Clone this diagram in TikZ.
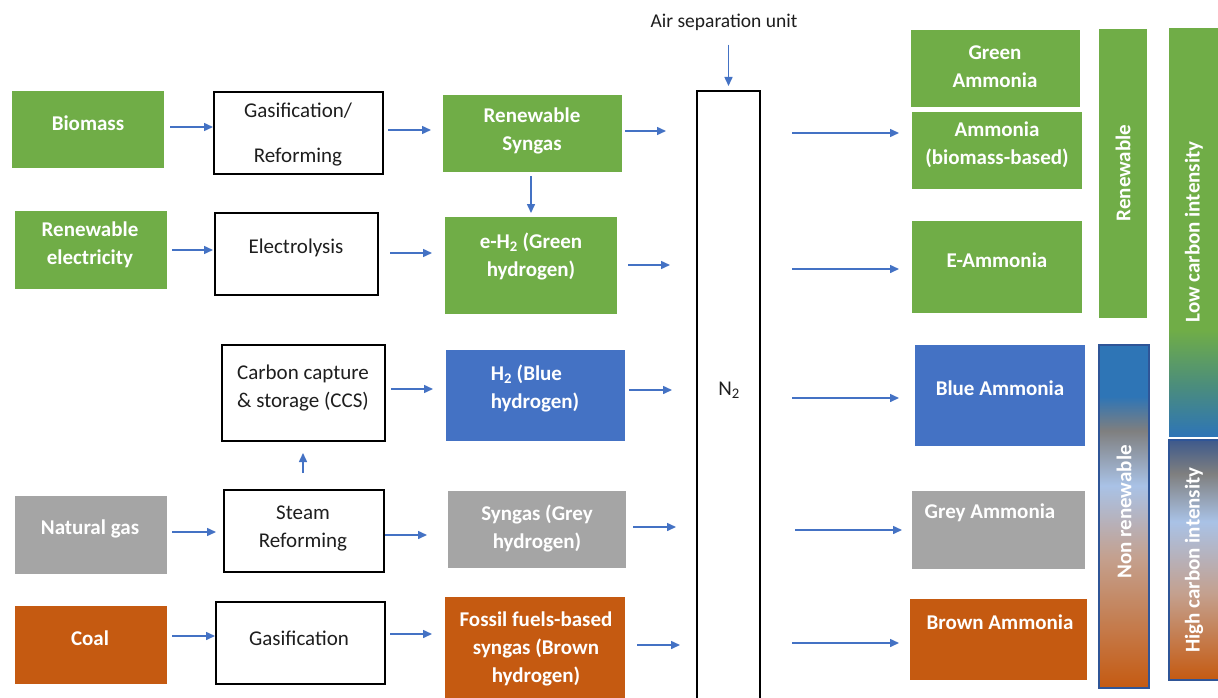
\documentclass[tikz,border=0pt]{standalone}
\usepackage{fontspec}
\setmainfont{Carlito}
\usetikzlibrary{arrows.meta,calc}
\definecolor{cgreen}{HTML}{70AD47}
\definecolor{cblue}{HTML}{4472C4}
\definecolor{cgrey}{HTML}{A5A5A5}
\definecolor{corange}{HTML}{C55A11}
\definecolor{carrow}{HTML}{4472C4}
\definecolor{cbar}{HTML}{2E75B6}
\definecolor{cmidgrey}{HTML}{7F7F7F}
\definecolor{clblue}{HTML}{A9C2E6}
\definecolor{ctan}{HTML}{C4A08E}
\definecolor{cteal}{HTML}{4A8C7E}
\definecolor{cslate}{HTML}{3E5A8C}
\definecolor{cframe}{HTML}{2F5597}
\definecolor{ctext}{HTML}{1E1E1E}
\pgfdeclareverticalshading{shnonren}{100bp}{color(0bp)=(corange); color(25bp)=(corange); color(44bp)=(ctan); color(54.5bp)=(clblue); color(62.5bp)=(cmidgrey); color(67.5bp)=(cbar); color(75bp)=(cbar); color(100bp)=(cbar)}
\pgfdeclareverticalshading{shlow}{100bp}{color(0bp)=(cbar); color(25bp)=(cbar); color(31bp)=(cteal); color(38bp)=(cgreen); color(75bp)=(cgreen); color(100bp)=(cgreen)}
\pgfdeclareverticalshading{shhigh}{100bp}{color(0bp)=(corange); color(25bp)=(corange); color(43bp)=(ctan); color(58bp)=(clblue); color(68bp)=(cmidgrey); color(75bp)=(cslate); color(100bp)=(cslate)}
\tikzset{
  box/.style={anchor=north west, inner sep=0pt, outer sep=0pt},
  gbox/.style={box, fill=cgreen},
  bbox/.style={box, fill=cblue},
  ybox/.style={box, fill=cgrey},
  obox/.style={box, fill=corange},
  wbox/.style={box, draw=black, line width=1.5pt, fill=white},
  wt/.style={text=white, font=\bfseries\fontsize{21}{28}\selectfont, align=center, inner sep=0pt},
  bt/.style={text=ctext, font=\fontsize{21}{28}\selectfont, align=center, inner sep=0pt},
  arr/.style={draw=carrow, line width=1.5pt, -{Triangle[length=9pt,width=8pt]}},
}
\begin{document}
\begin{tikzpicture}[x=1pt,y=-1pt]
\clip (0,0) rectangle (1218,698);
\fill[white] (0,0) rectangle (1218,698);
% left column
\node[gbox, minimum width=152, minimum height=77] (bio) at (12,91) {};
\node[wt] (bio-t) at (88,123) {Biomass};
\node[gbox, minimum width=152, minimum height=78] (rel) at (15,211) {};
\node[wt] (rel-t) at (90,245) {Renewable\\electricity};
\node[ybox, minimum width=152, minimum height=78] (ng) at (15,496) {};
\node[wt] (ng-t) at (90,529) {Natural gas};
\node[obox, minimum width=152, minimum height=78] (coal) at (15,606) {};
\node[wt] (coal-t) at (90,638) {Coal};
% process boxes
\node[wbox, minimum width=169, minimum height=82] (gas1) at (214,92) {};
\node[bt] (gas1-t) at (298,135) {Gasification/\\[17pt]Reforming};
\node[wbox, minimum width=163, minimum height=82] (elec) at (215,213) {};
\node[bt] (elec-t) at (296,248) {Electrolysis};
\node[wbox, minimum width=163, minimum height=96] (ccs) at (222,345) {};
\node[bt] (ccs-t) at (303,388) {Carbon capture\\\& storage (CCS)};
\node[wbox, minimum width=160, minimum height=82] (steam) at (224,490) {};
\node[bt] (steam-t) at (303,528) {Steam\\Reforming};
\node[wbox, minimum width=169, minimum height=82] (gas2) at (216,602) {};
\node[bt] (gas2-t) at (299,638) {Gasification};
% hydrogen column
\node[gbox, minimum width=179, minimum height=77] (rsyn) at (443,95) {};
\node[wt] (rsyn-t) at (532,131) {Renewable\\Syngas};
\node[gbox, minimum width=172, minimum height=97] (eh2) at (445,217) {};
\node[wt] (eh2-t) at (531,256) {e-H\textsubscript{2} (Green\\hydrogen)};
\node[bbox, minimum width=179, minimum height=91] (bh2) at (446,350) {};
\node[wt, align=left] (bh2-t) at (535,388) {H\textsubscript{2} (Blue\\hydrogen)};
\node[ybox, minimum width=178, minimum height=77] (gsyn) at (448,491) {};
\node[wt] (gsyn-t) at (537,528) {Syngas (Grey\\hydrogen)};
\node[obox, minimum width=180, minimum height=110] (fsyn) at (445,597) {};
\node[wt] (fsyn-t) at (536,649) {Fossil fuels-based\\syngas (Brown\\hydrogen)};
% N2
\node[wbox, minimum width=63, minimum height=630] (n2) at (697,91) {};
\node[bt] (n2-t) at (729,390) {N\textsubscript{2}};
\node[bt, font=\fontsize{19.5}{24}\selectfont] (asu) at (724,22) {Air separation unit};
% ammonia column
\node[gbox, minimum width=169, minimum height=77] (ga) at (911,30) {};
\node[wt] (ga-t) at (995,67) {Green\\Ammonia};
\node[gbox, minimum width=170, minimum height=77] (ab) at (912,112) {};
\node[wt] (ab-t) at (997,145) {Ammonia\\(biomass-based)};
\node[gbox, minimum width=170, minimum height=92] (ea) at (912,221) {};
\node[wt] (ea-t) at (997,260) {E-Ammonia};
\node[bbox, minimum width=170, minimum height=101] (ba) at (915,345) {};
\node[wt] (ba-t) at (1000,388) {Blue Ammonia};
\node[ybox, minimum width=173, minimum height=78] (gra) at (912,491) {};
\node[wt] (gra-t) at (990,513) {Grey Ammonia};
\node[obox, minimum width=177, minimum height=81] (bra) at (910,599) {};
\node[wt] (bra-t) at (1000,622) {Brown Ammonia};
% category bars
\node[gbox, minimum width=48, minimum height=289] (ren) at (1099,29) {};
\node[wt, rotate=90] (ren-t) at (1123,173) {Renewable};
\node[box, shade, shading=shnonren, draw=cframe, line width=1.2pt, minimum width=50, minimum height=343] (nonren) at (1099,345) {};
\node[wt, rotate=90] (nonren-t) at (1124,512) {Non renewable};
\node[box, shade, shading=shlow, minimum width=52, minimum height=407] (low) at (1169,29) {};
\node[wt, rotate=90] (low-t) at (1194,232) {Low carbon intensity};
\node[box, shade, shading=shhigh, draw=cframe, line width=1.2pt, minimum width=52, minimum height=240] (high) at (1169,440) {};
\node[wt, rotate=90] (high-t) at (1194,560) {High carbon intensity};
% arrows
\draw[arr, shorten <=6pt, shorten >=1pt] ([yshift=2.5pt]bio.east) -- ([yshift=2.5pt]bio.east -| gas1.west);
\draw[arr, shorten <=5pt, shorten >=12pt] ([yshift=3pt]gas1.east) -- ([yshift=3pt]gas1.east -| rsyn.west);
\draw[arr, shorten <=3pt, shorten >=31pt] ([yshift=2.5pt]rsyn.east) -- ([yshift=2.5pt]rsyn.east -| n2.west);
\draw[arr, shorten <=32pt, shorten >=13pt] ([yshift=17.5pt]ab.west -| n2.east) -- ([yshift=17.5pt]ab.west);
\draw[arr, shorten <=4pt, shorten >=4pt] ([xshift=-1.5pt]rsyn.south) -- ([xshift=-1.5pt]rsyn.south |- eh2.north);
\draw[arr, shorten <=5pt, shorten >=2pt] (rel.east) -- (rel.east -| elec.west);
\draw[arr, shorten <=12pt, shorten >=13pt] ([yshift=1pt]elec.east) -- ([yshift=1pt]elec.east -| eh2.west);
\draw[arr, shorten <=11pt, shorten >=27pt] ([yshift=0.5pt]eh2.east) -- ([yshift=0.5pt]eh2.east -| n2.west);
\draw[arr, shorten <=32pt, shorten >=13pt] ([yshift=-2pt]ea.west -| n2.east) -- ([yshift=-2pt]ea.west);
\draw[arr, shorten <=6pt, shorten >=13pt] ([yshift=4pt]ccs.east) -- ([yshift=4pt]ccs.east -| bh2.west);
\draw[arr, shorten <=4pt, shorten >=25pt] ([yshift=5.5pt]bh2.east) -- ([yshift=5.5pt]bh2.east -| n2.west);
\draw[arr, shorten <=32pt, shorten >=16pt] ([yshift=-2.5pt]ba.west -| n2.east) -- ([yshift=-2.5pt]ba.west);
\draw[arr, shorten <=17pt, shorten >=12pt] ([xshift=-1pt]steam.north) -- ([xshift=-1pt]steam.north |- ccs.south);
\draw[arr, shorten <=5pt, shorten >=8pt] ([yshift=3pt]ng.east) -- ([yshift=3pt]ng.east -| steam.west);
\draw[arr, shorten <=1pt, shorten >=21pt] ([yshift=-4pt]steam.east) -- ([yshift=-4pt]steam.east -| gsyn.west);
\draw[arr, shorten <=7pt, shorten >=21pt] ([yshift=2.5pt]gsyn.east) -- ([yshift=2.5pt]gsyn.east -| n2.west);
\draw[arr, shorten <=35pt, shorten >=10pt] (gra.west -| n2.east) -- (gra.west);
\draw[arr, shorten <=5pt, shorten >=1pt] ([yshift=9pt]coal.east) -- ([yshift=9pt]coal.east -| gas2.west);
\draw[arr, shorten <=5pt, shorten >=13pt] ([yshift=9pt]gas2.east) -- ([yshift=9pt]gas2.east -| fsyn.west);
\draw[arr, shorten <=12pt, shorten >=17pt] ([yshift=7pt]fsyn.east) -- ([yshift=7pt]fsyn.east -| n2.west);
\draw[arr, shorten <=32pt, shorten >=11pt] ([yshift=-3.5pt]bra.west -| n2.east) -- ([yshift=-3.5pt]bra.west);
\draw[arr, shorten <=14pt, shorten >=5pt] (n2.north |- asu.south) -- (n2.north);
\end{tikzpicture}
\end{document}
